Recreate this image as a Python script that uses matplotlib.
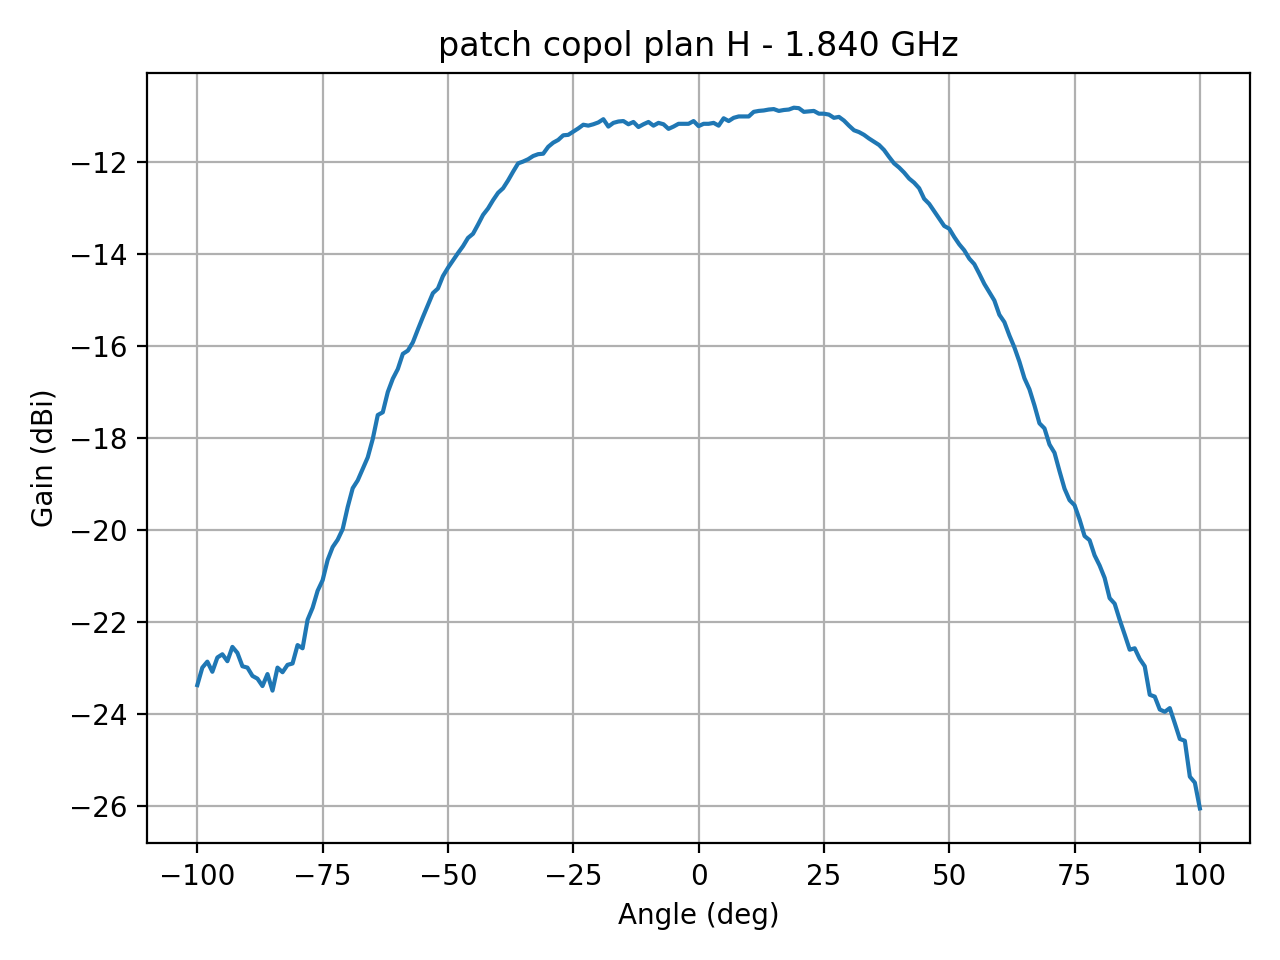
import numpy as np
import matplotlib
matplotlib.use("Agg")
import matplotlib.pyplot as plt

angles = list(range(-100, 101))

gain_left = [  # -100 .. -1
    -23.38, -23.00, -22.87, -23.09, -22.78, -22.71, -22.86, -22.55, -22.68, -22.97,
    -23.00, -23.18, -23.24, -23.40, -23.14, -23.50, -23.00, -23.10, -22.94, -22.91,
    -22.51, -22.58, -21.96, -21.70, -21.33, -21.10, -20.66, -20.38, -20.22, -19.99,
    -19.51, -19.10, -18.93, -18.68, -18.43, -18.03, -17.51, -17.45, -17.01, -16.72,
    -16.51, -16.18, -16.11, -15.93, -15.65, -15.38, -15.12, -14.86, -14.76, -14.49,
    -14.31, -14.15, -13.99, -13.84, -13.66, -13.57, -13.37, -13.16, -13.02, -12.84,
    -12.68, -12.58, -12.41, -12.22, -12.04, -12.00, -11.95, -11.88, -11.84, -11.83,
    -11.68, -11.59, -11.53, -11.43, -11.42, -11.35, -11.28, -11.20, -11.22, -11.19,
    -11.15, -11.08, -11.24, -11.16, -11.13, -11.12, -11.19, -11.14, -11.25, -11.19,
    -11.14, -11.22, -11.16, -11.19, -11.29, -11.24, -11.18, -11.18, -11.18, -11.12,
]
gain_right = [  # 0 .. 100
    -11.23, -11.18, -11.18, -11.16, -11.22, -11.06, -11.12, -11.05, -11.02, -11.02,
    -11.02, -10.92, -10.90, -10.89, -10.87, -10.86, -10.90, -10.88, -10.87, -10.83,
    -10.84, -10.92, -10.91, -10.90, -10.96, -10.96, -10.98, -11.05, -11.03, -11.11,
    -11.22, -11.32, -11.36, -11.42, -11.50, -11.57, -11.64, -11.75, -11.90, -12.04,
    -12.13, -12.24, -12.37, -12.46, -12.58, -12.81, -12.92, -13.08, -13.24, -13.40,
    -13.46, -13.64, -13.80, -13.93, -14.11, -14.23, -14.44, -14.66, -14.84, -15.02,
    -15.33, -15.49, -15.78, -16.04, -16.35, -16.71, -16.95, -17.30, -17.69, -17.80,
    -18.15, -18.33, -18.73, -19.11, -19.36, -19.47, -19.78, -20.14, -20.23, -20.56,
    -20.78, -21.05, -21.49, -21.61, -21.96, -22.28, -22.61, -22.58, -22.81, -22.97,
    -23.59, -23.63, -23.91, -23.96, -23.88, -24.21, -24.55, -24.59, -25.37, -25.50,
    -26.06,
]
gain = gain_left + gain_right

fig, ax = plt.subplots(figsize=(6.4, 4.8), dpi=200)
ax.plot(angles, gain)
ax.set_title("patch copol plan H - 1.840 GHz")
ax.set_xlabel("Angle (deg)")
ax.set_ylabel("Gain (dBi)")
ax.grid(True)
fig.tight_layout()
fig.savefig("out.png", dpi=200)
